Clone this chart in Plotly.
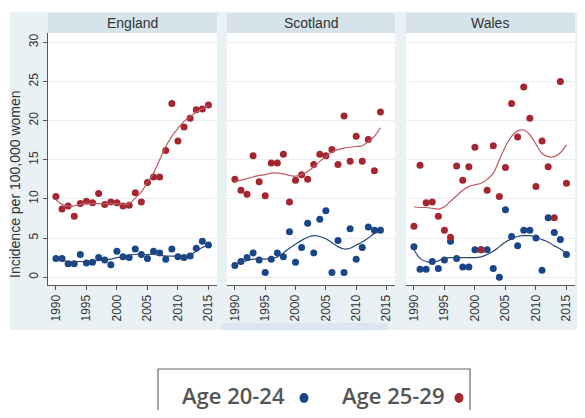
import plotly.graph_objects as go

# Page body has an 8px margin; the figure is sized to fit the 585x418 window.
OFF = 8
W, H = 585 - 2 * OFF, 418 - 2 * OFF

years = list(range(1990, 2016))
years_sc = list(range(1990, 2015))

# England
eng_25_29 = [10.3, 8.7, 9.1, 7.8, 9.4, 9.7, 9.5, 10.7, 9.3, 9.6, 9.5, 9.1, 9.2, 10.8, 9.6,
             12.1, 12.8, 12.8, 16.2, 22.2, 17.4, 19.2, 20.3, 21.4, 21.5, 22.0]
eng_20_24 = [2.4, 2.4, 1.7, 1.7, 2.9, 1.8, 1.9, 2.5, 2.2, 1.6, 3.3, 2.6, 2.5, 3.6, 2.9,
             2.4, 3.3, 3.1, 2.3, 3.6, 2.6, 2.5, 2.7, 3.7, 4.6, 4.1]
eng_25_29_fit = [9.9, 9.3, 9.1, 9.1, 9.3, 9.4, 9.4, 9.4, 9.4, 9.4, 9.4, 9.3, 9.4, 10.1, 10.9,
                 12.1, 13.3, 15.0, 16.7, 18.0, 19.0, 19.9, 20.5, 21.1, 21.5, 21.9]
eng_20_24_fit = [2.2, 2.1, 2.0, 2.0, 2.0, 2.0, 2.1, 2.1, 2.2, 2.3, 2.5, 2.6, 2.8, 2.9, 2.9,
                 2.9, 2.9, 2.8, 2.7, 2.7, 2.7, 2.7, 2.9, 3.3, 3.8, 4.1]

# Scotland (1990-2014)
sco_25_29 = [12.5, 11.1, 10.6, 15.5, 12.2, 10.4, 14.6, 14.6, 15.7, 9.6, 12.4, 13.1, 12.5,
             14.4, 15.7, 15.5, 16.3, 14.4, 20.6, 14.8, 18.0, 14.8, 17.6, 13.6, 21.1]
sco_20_24 = [1.5, 2.0, 2.5, 3.1, 2.2, 0.6, 2.3, 3.1, 2.6, 5.8, 1.9, 3.8, 6.9, 3.1, 7.4,
             8.5, 0.6, 4.7, 0.6, 6.2, 2.3, 3.8, 6.4, 6.0, 6.0]
sco_25_29_fit = [12.2, 12.4, 12.6, 12.8, 13.0, 13.1, 13.3, 13.3, 13.2, 13.0, 12.9, 13.1, 13.5,
                 14.1, 14.8, 15.4, 16.0, 16.3, 16.5, 16.6, 16.7, 16.8, 17.3, 18.0, 19.1]
sco_20_24_fit = [1.6, 1.9, 2.1, 2.3, 2.3, 2.3, 2.4, 2.6, 3.1, 3.7, 4.2, 4.7, 5.1, 5.3, 5.2,
                 4.9, 4.4, 3.9, 3.6, 3.7, 4.1, 4.5, 5.0, 5.6, 5.8]

# Wales
wal_25_29 = [6.5, 14.3, 9.5, 9.6, 7.8, 6.0, 5.1, 14.2, 12.4, 14.1, 16.6, 3.5, 11.1, 16.8, 10.3,
             14.0, 22.2, 17.9, 24.3, 20.3, 11.6, 17.4, 14.1, 7.6, 25.0, 12.0]
wal_20_24 = [3.9, 1.0, 1.0, 2.0, 1.1, 2.2, 4.6, 2.4, 1.3, 1.3, 3.5, 3.5, 3.5, 1.1, 0.0,
             8.6, 5.2, 4.0, 6.0, 6.0, 5.0, 0.9, 7.6, 5.7, 4.8, 2.9]
wal_25_29_fit = [9.0, 8.9, 8.9, 8.8, 8.7, 9.0, 9.7, 10.4, 11.1, 11.6, 11.8, 12.0, 12.5, 13.3, 15.0,
                 16.7, 18.0, 18.7, 18.8, 18.2, 17.0, 15.8, 15.4, 15.4, 15.9, 16.9]
wal_20_24_fit = [3.5, 2.4, 2.0, 1.9, 2.1, 2.4, 2.5, 2.5, 2.5, 2.5, 2.5, 2.6, 2.9, 3.3, 3.9,
                 4.5, 4.9, 5.2, 5.3, 5.3, 5.1, 4.8, 4.5, 4.0, 3.6, 3.0]

panels = ["England", "Scotland", "Wales"]
panel_x = [years, years_sc, years]
panel_young = [eng_20_24, sco_20_24, wal_20_24]
panel_old = [eng_25_29, sco_25_29, wal_25_29]
panel_young_fit = [eng_20_24_fit, sco_20_24_fit, wal_20_24_fit]
panel_old_fit = [eng_25_29_fit, sco_25_29_fit, wal_25_29_fit]

legend_labels = ["Age 20-24", "Age 25-29"]
x_ticks = [1990, 1995, 2000, 2005, 2010, 2015]
y_ticks = [0, 5, 10, 15, 20, 25, 30]
y_title = "Incidence per 100,000 women"

BLUE = "rgb(24,70,135)"
RED = "rgb(165,38,48)"
BLUE_LINE = "rgb(45,72,118)"
RED_LINE = "rgb(188,92,102)"
BG = "rgb(234,241,244)"
STRIP = "rgb(214,227,234)"
FONT = "Liberation Sans, Arial"


def px(x):
    return (x - OFF) / W


def py(y):
    return 1 - (y - OFF) / H


panel_px = [(48, 217), (227, 395), (406, 575)]
plot_top, plot_bot = 33, 285
strip_top = 13

fig = go.Figure()
shapes = []
annotations = []

# outer background
shapes.append(dict(type="rect", xref="paper", yref="paper", x0=px(10), x1=px(578),
                   y0=py(330), y1=py(12), fillcolor=BG, line=dict(width=0), layer="below"))

for i, name in enumerate(panels):
    xa = "x" if i == 0 else f"x{i+1}"
    ya = "y" if i == 0 else f"y{i+1}"
    fig.add_trace(go.Scatter(x=panel_x[i], y=panel_young[i], mode="markers", xaxis=xa, yaxis=ya,
                             marker=dict(color=BLUE, size=7), name=legend_labels[0],
                             cliponaxis=False, showlegend=False))
    fig.add_trace(go.Scatter(x=panel_x[i], y=panel_young_fit[i], mode="lines", xaxis=xa, yaxis=ya,
                             line=dict(color=BLUE_LINE, width=1.2, shape="spline"), showlegend=False))
    fig.add_trace(go.Scatter(x=panel_x[i], y=panel_old[i], mode="markers", xaxis=xa, yaxis=ya,
                             marker=dict(color=RED, size=7), name=legend_labels[1],
                             cliponaxis=False, showlegend=False))
    fig.add_trace(go.Scatter(x=panel_x[i], y=panel_old_fit[i], mode="lines", xaxis=xa, yaxis=ya,
                             line=dict(color=RED_LINE, width=1.2, shape="spline"), showlegend=False))

    x0, x1 = panel_px[i]
    shapes.append(dict(type="rect", xref="paper", yref="paper", x0=px(x0), x1=px(x1),
                       y0=py(plot_bot), y1=py(plot_top), fillcolor="white", line=dict(width=0),
                       layer="below"))
    shapes.append(dict(type="rect", xref="paper", yref="paper", x0=px(x0), x1=px(x1),
                       y0=py(plot_top), y1=py(strip_top), fillcolor=STRIP, line=dict(width=0),
                       layer="below"))
    annotations.append(dict(text=name, xref="paper", yref="paper", x=(px(x0) + px(x1)) / 2,
                            y=(py(plot_top) + py(strip_top)) / 2, showarrow=False,
                            font=dict(family=FONT, size=14, color="#333"),
                            xanchor="center", yanchor="middle"))

    xaxis = dict(domain=[px(x0), px(x1)], range=[1988.7, 2016.4], tickvals=x_ticks,
                 ticktext=[str(t) for t in x_ticks], tickangle=-90, ticks="outside", ticklen=4,
                 tickcolor="#555", showline=True, linecolor="#555", linewidth=1, showgrid=False,
                 zeroline=False, anchor=ya,
                 tickfont=dict(family=FONT, size=12, color="#333"))
    yaxis = dict(domain=[py(plot_bot), py(plot_top)], range=[-1.0, 31.2], tickvals=y_ticks,
                 showgrid=True, gridcolor="rgb(234,238,240)", gridwidth=1, zeroline=False,
                 anchor=xa)
    if i == 0:
        yaxis.update(showline=True, linecolor="#555", linewidth=1, ticks="outside", ticklen=4,
                     tickcolor="#555", tickangle=-90, showticklabels=True,
                     tickfont=dict(family=FONT, size=12, color="#333"))
    else:
        yaxis.update(showline=False, ticks="", showticklabels=False)
    fig.update_layout({("xaxis" if i == 0 else f"xaxis{i+1}"): xaxis,
                       ("yaxis" if i == 0 else f"yaxis{i+1}"): yaxis})

# y axis title
annotations.append(dict(text=y_title, xref="paper", yref="paper",
                        x=px(15), y=py(184), textangle=-90, showarrow=False,
                        font=dict(family=FONT, size=14, color="#333"),
                        xanchor="center", yanchor="middle"))

# covered x-title box
shapes.append(dict(type="rect", xref="paper", yref="paper", x0=px(222), x1=px(388),
                   y0=py(330), y1=py(323), fillcolor="rgb(220,230,241)", line=dict(width=0),
                   layer="below"))

# legend box (text first, symbol after)
shapes.append(dict(type="rect", xref="paper", yref="paper", x0=px(158), x1=px(470),
                   y0=py(425), y1=py(369), fillcolor="white", line=dict(color="#666", width=1.2)))
LEG_FONT = dict(family="Open Sans, Lato", size=22, color="#555", weight=600)
annotations.append(dict(text=legend_labels[0], xref="paper", yref="paper", x=px(180), y=py(395),
                        xanchor="left", yanchor="middle", showarrow=False, font=LEG_FONT))
annotations.append(dict(text=legend_labels[1], xref="paper", yref="paper", x=px(340), y=py(395),
                        xanchor="left", yanchor="middle", showarrow=False, font=LEG_FONT))
for cx, col in [(304, BLUE), (459, RED)]:
    shapes.append(dict(type="circle", xref="paper", yref="paper", x0=px(cx - 4.5), x1=px(cx + 4.5),
                       y0=py(398 + 5), y1=py(398 - 5), fillcolor=col, line=dict(width=0)))

fig.update_layout(width=W, height=H, margin=dict(l=0, r=0, t=0, b=0),
                  paper_bgcolor="white", plot_bgcolor="rgba(0,0,0,0)",
                  shapes=shapes, annotations=annotations, showlegend=False)

fig.write_html("out.html")
